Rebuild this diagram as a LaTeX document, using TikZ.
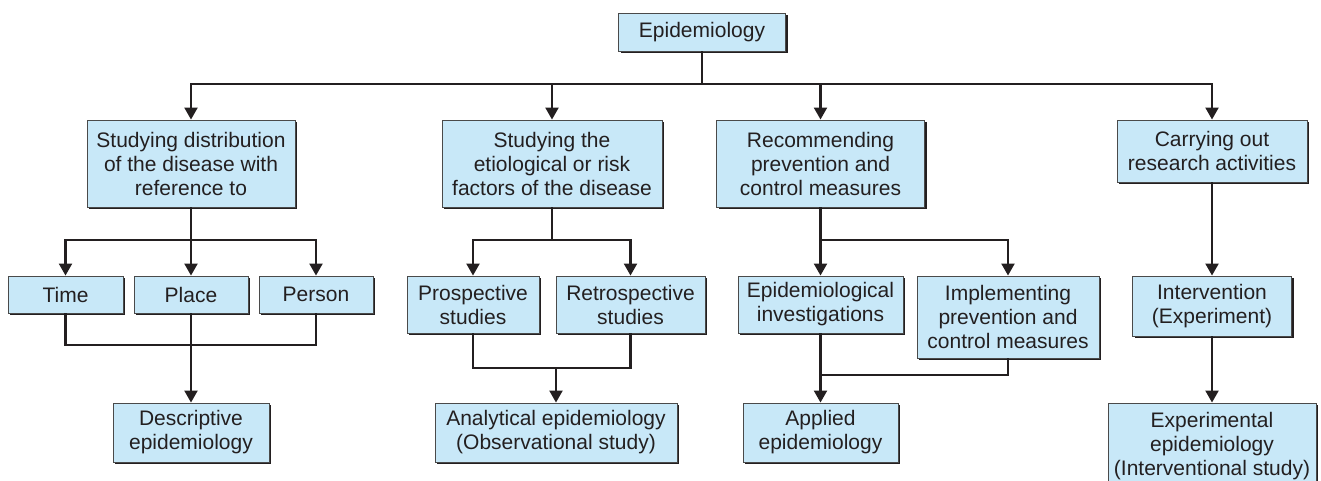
\documentclass[tikz,border=0pt]{standalone}
\usepackage{fontspec}
\setmainfont{Liberation Sans}
\usetikzlibrary{arrows.meta,shadows}
\definecolor{boxfill}{HTML}{C8E8F8}
\definecolor{ink}{HTML}{231F20}
\definecolor{edge}{HTML}{4A4A4A}
\begin{document}
\begin{tikzpicture}[x=1pt,y=-1pt,
  box/.style={draw=edge, line width=0.9pt, fill=boxfill, inner sep=0pt, align=center,
    text=ink, font=\fontsize{21}{24}\selectfont,
    drop shadow={shadow xshift=2.2pt, shadow yshift=-2.2pt, fill=ink, opacity=1}},
  conn/.style={draw=ink, line width=2.2pt, line join=miter},
  arr/.style={conn, -{Triangle[width=13pt,length=12pt]}}]
\useasboundingbox (0,0) rectangle (1321,481);
\clip (0,0) rectangle (1321,481);
% top
\node[box, minimum width=167pt, minimum height=38pt] (epi) at (702,32) {Epidemiology};
% level 1
\node[box, minimum width=208pt, minimum height=87pt] (c1) at (191,163.5) {Studying distribution\\of the disease with\\reference to};
\node[box, minimum width=220pt, minimum height=87pt] (c2) at (552,163.5) {Studying the\\etiological or risk\\factors of the disease};
\node[box, minimum width=208pt, minimum height=87pt] (c3) at (820.5,163.5) {Recommending\\prevention and\\control measures};
\node[box, minimum width=190pt, minimum height=62pt] (c4) at (1212,151) {Carrying out\\research activities};
% level 2
\node[box, minimum width=115pt, minimum height=37pt] (time) at (65.5,294.5) {Time};
\node[box, minimum width=114pt, minimum height=37pt] (place) at (191,294.5) {Place};
\node[box, minimum width=114pt, minimum height=37pt] (person) at (316,294.5) {Person};
\node[box, minimum width=132pt, minimum height=57pt] (pros) at (473,304.5) {Prospective\\studies};
\node[box, minimum width=149pt, minimum height=57pt] (retro) at (630.5,304.5) {Retrospective\\studies};
\node[box, minimum width=165pt, minimum height=57pt] (inv) at (820.5,304.5) {Epidemiological\\investigations};
\node[box, minimum width=182pt, minimum height=82pt] (impl) at (1008,317) {Implementing\\prevention and\\control measures};
\node[box, minimum width=159pt, minimum height=60pt] (interv) at (1212,306) {Intervention\\(Experiment)};
% level 3
\node[box, minimum width=156pt, minimum height=59pt] (desc) at (191,432.5) {Descriptive\\epidemiology};
\node[box, minimum width=242pt, minimum height=59pt] (anal) at (556,432.5) {Analytical epidemiology\\(Observational study)};
\node[box, minimum width=155pt, minimum height=59pt] (appl) at (820.5,432.5) {Applied\\epidemiology};
\node[box, minimum width=208pt, minimum height=87pt] (exper) at (1212,446.5) {Experimental\\epidemiology\\(Interventional study)};
% coordinates
\coordinate (bus) at (702,84);
\coordinate (b1) at (191,240);
\coordinate (b2) at (552,240);
\coordinate (b3) at (820.5,240);
\coordinate (j1) at (191,345);
\coordinate (j2) at (556,368);
\coordinate (j3) at (820.5,375);
% connectors
\draw[conn] (epi.south) -- (bus);
\draw[arr] (bus) -| (c1.north);
\draw[arr] (bus) -| (c2.north);
\draw[arr] (bus) -| (c3.north);
\draw[arr] (bus) -| (c4.north);
% column 1
\draw[conn] (c1.south) -- (b1);
\draw[arr] (b1) -| (time.north);
\draw[arr] (b1) -- (place.north);
\draw[arr] (b1) -| (person.north);
\draw[conn] (time.south) |- (j1) -| (person.south);
\draw[arr] (place.south) -- (desc.north);
% column 2
\draw[conn] (c2.south) -- (b2);
\draw[arr] (b2) -| (pros.north);
\draw[arr] (b2) -| (retro.north);
\draw[conn] (pros.south) |- (j2) -| (retro.south);
\draw[arr] (j2) -- (anal.north);
% column 3
\draw[conn] (c3.south) -- (b3);
\draw[arr] (b3) -- (inv.north);
\draw[arr] (b3) -| (impl.north);
\draw[conn] (impl.south) |- (j3);
\draw[arr] (inv.south) -- (appl.north);
% column 4
\draw[arr] (c4.south) -- (interv.north);
\draw[arr] (interv.south) -- (exper.north);
\end{tikzpicture}
\end{document}
